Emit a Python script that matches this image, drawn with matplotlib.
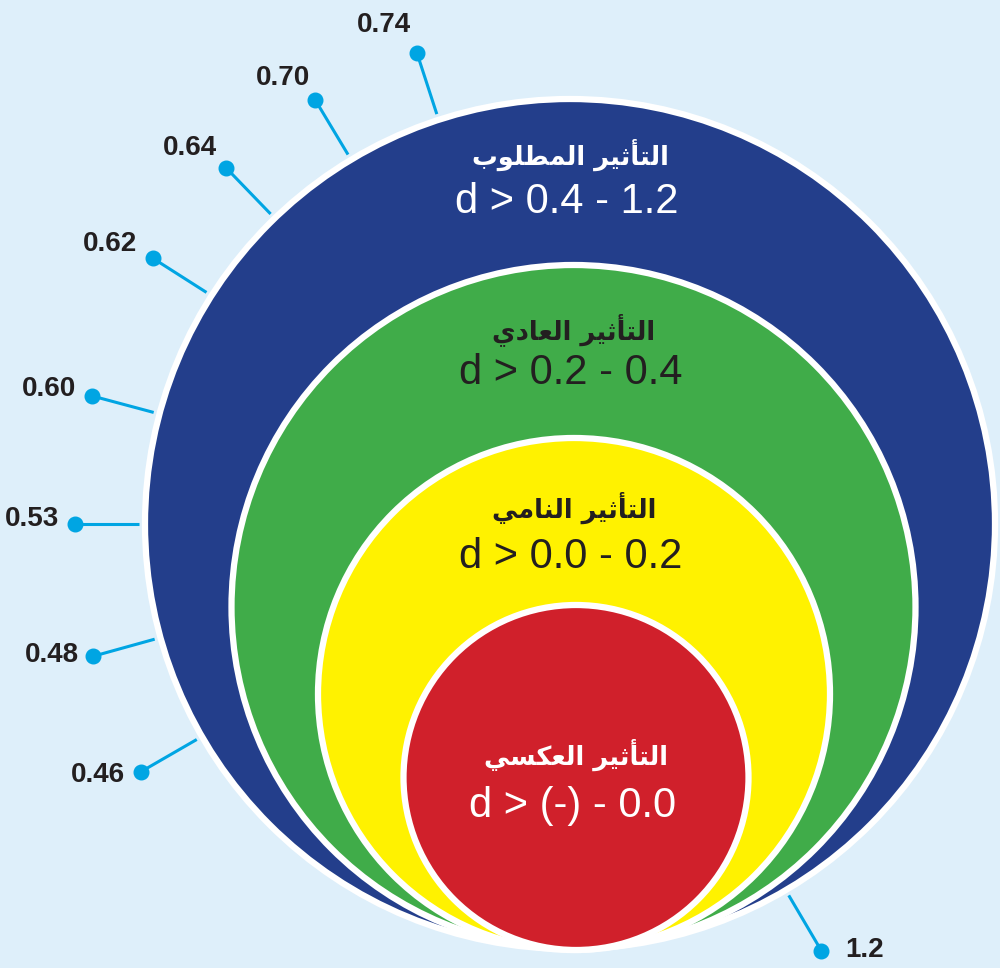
import matplotlib.pyplot as plt
import matplotlib.patches as patches
import numpy as np

# effect levels, outer to inner
levels = ["التأثير المطلوب", "التأثير العادي", "التأثير النامي", "التأثير العكسي"]
ranges = ["d > 0.4 - 1.2", "d > 0.2 - 0.4", "d > 0.0 - 0.2", "d > (-) - 0.0"]

# effect sizes marked round the outer ring
pinValues = ["0.74", "0.70", "0.64", "0.62", "0.60", "0.53", "0.48", "0.46", "1.2"]
pinAngles = [108, 121, 134, 147.5, 165, 180, 195.5, 210, 300.5]
pinOffsets = [(-33, -28), (-32, -22), (-36, -20), (-43, -14), (-43, -7),
              (-43, -5), (-41, -1), (-43, 3), (43, -1)]

# circle layout (pixels, y down)
centers = [(570, 524), (573.5, 607), (574, 694), (576, 777.5)]
radii = [425, 342, 256, 172.5]
fills = ["#233E8B", "#40AC49", "#FFF200", "#D0202B"]
textColors = ["white", "#231F20", "#231F20", "white"]
nameY = [155, 330, 508, 755]
rangeY = [202, 373, 557, 806]

bg = "#DEEFFA"
pinColor = "#00A5E3"

# arabic letters: isolated, final, initial, medial (None = does not join left)
forms = {
    'ا': ('\uFE8D', '\uFE8E', None, None),
    'أ': ('\uFE83', '\uFE84', None, None),
    'ل': ('\uFEDD', '\uFEDE', '\uFEDF', '\uFEE0'),
    'ت': ('\uFE95', '\uFE96', '\uFE97', '\uFE98'),
    'ث': ('\uFE99', '\uFE9A', '\uFE9B', '\uFE9C'),
    'ي': ('\uFEF1', '\uFEF2', '\uFEF3', '\uFEF4'),
    'ر': ('\uFEAD', '\uFEAE', None, None),
    'م': ('\uFEE1', '\uFEE2', '\uFEE3', '\uFEE4'),
    'ط': ('\uFEC1', '\uFEC2', '\uFEC3', '\uFEC4'),
    'و': ('\uFEED', '\uFEEE', None, None),
    'ب': ('\uFE8F', '\uFE90', '\uFE91', '\uFE92'),
    'ع': ('\uFEC9', '\uFECA', '\uFECB', '\uFECC'),
    'د': ('\uFEA9', '\uFEAA', None, None),
    'ن': ('\uFEE5', '\uFEE6', '\uFEE7', '\uFEE8'),
    'ك': ('\uFED9', '\uFEDA', '\uFEDB', '\uFEDC'),
    'س': ('\uFEB1', '\uFEB2', '\uFEB3', '\uFEB4'),
}


def shape(word):
    out = []
    for i, ch in enumerate(word):
        if ch not in forms:
            out.append(ch)
            continue
        prev = word[i - 1] if i > 0 else ' '
        nxt = word[i + 1] if i + 1 < len(word) else ' '
        joinPrev = prev in forms and forms[prev][2] is not None
        joinNext = nxt in forms and forms[ch][2] is not None
        iso, fin, ini, med = forms[ch]
        if joinPrev and joinNext:
            out.append(med)
        elif joinPrev:
            out.append(fin)
        elif joinNext:
            out.append(ini)
        else:
            out.append(iso)
    return ''.join(out)[::-1]


fig = plt.figure(figsize=(10, 9.68), dpi=100)
fig.patch.set_facecolor(bg)
ax = fig.add_axes([0, 0, 1, 1])
ax.set_xlim(0, 1000)
ax.set_ylim(968, 0)
ax.axis('off')

for (cx, cy), r, c in zip(centers, radii, fills):
    ax.add_patch(patches.Circle((cx, cy), r, facecolor=c, edgecolor='white', linewidth=4.5))

for i in range(len(levels)):
    cx = centers[i][0]
    ax.text(cx, nameY[i], shape(levels[i]), ha='center', va='center', fontsize=18.5,
            fontweight='bold', family=['DejaVu Sans'], color=textColors[i])
    ax.text(cx - 3, rangeY[i], ranges[i], ha='center', va='center', fontsize=30,
            family=['Liberation Sans'], color=textColors[i])

# pins
cx, cy = centers[0]
for val, ang, off in zip(pinValues, pinAngles, pinOffsets):
    t = np.radians(ang)
    x0, y0 = cx + 431 * np.cos(t), cy - 431 * np.sin(t)
    x1, y1 = cx + 495 * np.cos(t), cy - 495 * np.sin(t)
    ax.plot([x0, x1], [y0, y1], color=pinColor, linewidth=2.2, solid_capstyle='butt')
    ax.plot(x1, y1, 'o', color=pinColor, markersize=10.5)
    ax.annotate(val, (x1, y1), xytext=(off[0], -off[1]), textcoords='offset pixels',
                ha='center', va='center', fontsize=20, fontweight='bold',
                family=['Liberation Sans'], color='#231F20')

fig.savefig('out.png', dpi=100, facecolor=bg)
